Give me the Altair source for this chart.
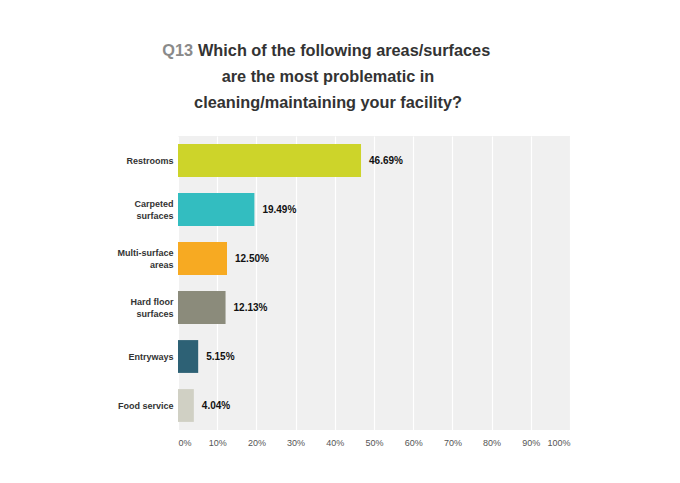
import altair as alt
import pandas as pd

categories = ["Restrooms", "Carpeted surfaces", "Multi-surface areas",
              "Hard floor surfaces", "Entryways", "Food service"]
values = [46.69, 19.49, 12.50, 12.13, 5.15, 4.04]
colors = ["#cdd42a", "#33bdc0", "#f7aa22", "#8b8b7b", "#2d6175", "#d0d0c4"]
value_labels = ["46.69%", "19.49%", "12.50%", "12.13%", "5.15%", "4.04%"]
tick_values = [0, 10, 20, 30, 40, 50, 60, 70, 80, 90, 100]
wrapped = {
    "Carpeted surfaces": ["Carpeted", "surfaces"],
    "Multi-surface areas": ["Multi-surface", "areas"],
    "Hard floor surfaces": ["Hard floor", "surfaces"],
}
title_q = "Q13"
title_lines = ["Which of the following areas/surfaces",
               "are the most problematic in",
               "cleaning/maintaining your facility?"]

df = pd.DataFrame({"cat": categories, "val": values, "lab": value_labels})

label_expr = "datum.label"
for k, v in wrapped.items():
    label_expr = f"datum.label === '{k}' ? ['{v[0]}', '{v[1]}'] : ({label_expr})"
wrapped_test = " || ".join(f"datum.label === '{k}'" for k in wrapped)

FONT = "Liberation Sans"

y_enc = alt.Y("cat:N", sort=categories, title=None,
              scale=alt.Scale(paddingInner=0.33, paddingOuter=0.165),
              axis=alt.Axis(labelExpr=label_expr, labelFont=FONT, labelFontSize=9,
                            labelFontWeight="bold", labelColor="#333333",
                            labelLineHeight=12, ticks=False, domain=False,
                            labelPadding=5, grid=False, labelLimit=200,
                            labelOffset=alt.condition(wrapped_test, alt.value(-6), alt.value(0))))
x_enc = alt.X("val:Q", title=None,
              scale=alt.Scale(domain=[0, 100], nice=False),
              axis=alt.Axis(values=tick_values, labelExpr="datum.value + '%'",
                            labelFont=FONT, labelFontSize=9, labelColor="#555555",
                            labelFlush=True, labelOverlap=False, ticks=False, domain=False,
                            labelPadding=8, grid=True, gridColor="#ffffff",
                            gridWidth=1.2))

base = alt.Chart(df)

bars = base.mark_bar().encode(
    y=y_enc, x=x_enc,
    color=alt.Color("cat:N", scale=alt.Scale(domain=categories, range=colors),
                    legend=None),
)

texts = base.mark_text(align="left", baseline="middle", dx=8, font=FONT,
                       fontSize=10, fontWeight="bold", color="#111111").encode(
    y=y_enc, x=x_enc, text="lab:N",
)

tq = alt.Chart(pd.DataFrame({"t": [title_q]})).mark_text(
    align="right", baseline="middle", font=FONT, fontSize=16.3, fontWeight="bold",
    color="#8a8a8a").encode(text="t:N", x=alt.value(15), y=alt.value(-85))

t1 = alt.Chart(pd.DataFrame({"t": [title_lines[0]]})).mark_text(
    align="left", baseline="middle", font=FONT, fontSize=16.3, fontWeight="bold",
    color="#333333").encode(text="t:N", x=alt.value(20), y=alt.value(-85))

t23 = alt.Chart(pd.DataFrame({"t": title_lines[1:], "yy": [-59, -33]})).mark_text(
    align="center", baseline="middle", font=FONT, fontSize=16.3, fontWeight="bold",
    color="#333333").encode(text="t:N", x=alt.value(150),
                            y=alt.Y("yy:Q", scale=None))

chart = alt.layer(bars, texts, tq, t1, t23).properties(
    width=392, height=294,
    autosize=alt.AutoSizeParams(type="none"),
    padding={"left": 170, "top": 128, "right": 20, "bottom": 40},
    background="#ffffff",
).configure_view(fill="#f0f0f0", stroke=None)

chart.save("out.html", embed_options={"renderer": "svg", "actions": False})
